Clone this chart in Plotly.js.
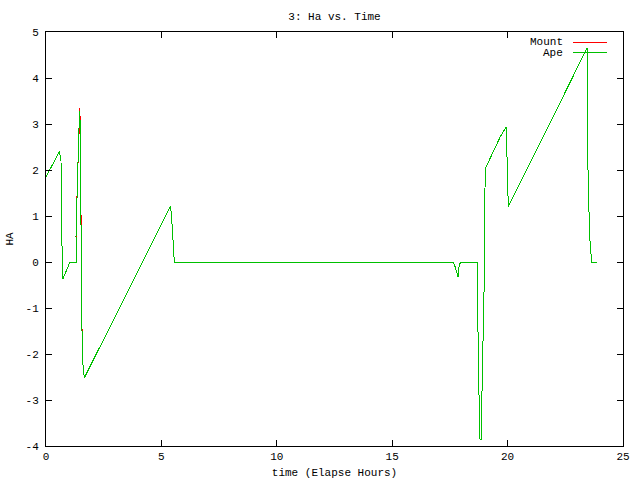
<!DOCTYPE html>
<html>
<head>
<meta charset="utf-8">
<script src="https://cdn.plot.ly/plotly-3.0.1.min.js"></script>
<style>
html,body{margin:0;padding:0;background:#fff;}
#chart{width:640px;height:480px;}
#chart path.js-line{shape-rendering:crispEdges;}
#chart .layer-above path, #chart .crisp{shape-rendering:crispEdges;}
</style>
</head>
<body>
<div id="chart"></div>
<script>
// Elapsed time (hours) and hour angle readings
const apeTime = [0, 0.3, 0.58, 0.65, 0.66, 0.67, 0.71, 0.75, 0.87, 1.04, 1.30, 1.30, 1.36, 1.40, 1.44, 1.47, 1.50, 1.55, 1.57, 1.62, 1.66, 2.5, 3.5, 4.5, 5.40, 5.47, 5.52, 5.56, 10.0, 17.65, 17.73, 17.80, 17.86, 17.90, 17.97, 18.70, 18.70, 18.76, 18.80, 18.85, 18.88, 18.92, 18.98, 18.99, 19.05, 19.70, 19.94, 19.96, 19.99, 20.03, 21.5, 23.44, 23.45, 23.49, 23.56, 23.61, 23.64, 23.86];
const apeHA   = [1.85, 2.12, 2.40, 2.20, 1.53, 0.26, -0.35, -0.35, -0.22, 0.0, 0.0, 0.55, 1.70, 2.52, 3.07, 3.28, 2.00, -0.57, -2.02, -2.35, -2.52, -1.68, -0.68, 0.32, 1.22, 0.77, 0.24, 0.0, 0.0, 0.0, -0.11, -0.22, -0.33, -0.07, 0.0, 0.0, -0.96, -2.85, -3.85, -3.87, -3.28, -2.09, -0.61, 1.15, 2.05, 2.74, 2.94, 2.52, 1.65, 1.20, 2.68, 4.65, 3.67, 1.72, 0.52, 0.20, 0.0, 0.0];
const mountTime = [0, 0.3, 0.58, 0.65, 0.66, 0.67, 0.71, 0.75, 0.87, 1.04, 1.30, 1.30, 1.36, 1.40, 1.44, 1.47, 1.50, 1.55, 1.57, 1.62, 1.66, 2.5, 3.5, 4.5, 5.40, 5.47, 5.52, 5.56, 10.0, 17.65, 17.73, 17.80, 17.86, 17.90, 17.97, 18.70, 18.70, 18.76, 18.80, 18.85, 18.88, 18.92, 18.98, 18.99, 19.05, 19.70, 19.94, 19.96, 19.99, 20.03, 21.5, 23.44, 23.45, 23.49, 23.56, 23.61, 23.64, 23.86];
const mountHA   = [1.85, 2.12, 2.40, 2.20, 1.53, 0.26, -0.35, -0.35, -0.22, 0.0, 0.0, 0.58, 1.74, 2.55, 3.12, 3.35, 2.00, -0.57, -2.02, -2.35, -2.52, -1.68, -0.68, 0.32, 1.22, 0.77, 0.24, 0.0, 0.0, 0.0, -0.11, -0.22, -0.33, -0.07, 0.0, 0.0, -0.96, -2.85, -3.85, -3.87, -3.28, -2.09, -0.61, 1.15, 2.05, 2.74, 2.94, 2.52, 1.65, 1.20, 2.68, 4.65, 3.67, 1.72, 0.52, 0.20, 0.0, 0.0];
const seriesNames = ["Mount", "Ape"];
const xTicks = [0, 5, 10, 15, 20, 25];
const yTicks = [-4, -3, -2, -1, 0, 1, 2, 3, 4, 5];

const RED = "#ff0000", GREEN = "#00c000";
const FONT = {family: "Liberation Mono, DejaVu Sans Mono, monospace", size: 11, color: "#000"};

const traces = [
  {x: mountTime, y: mountHA, name: seriesNames[0], type: "scatter", mode: "lines",
   line: {color: RED, width: 1}, showlegend: false},
  {x: apeTime, y: apeHA, name: seriesNames[1], type: "scatter", mode: "lines",
   line: {color: GREEN, width: 1}, showlegend: false}
];

const axisCommon = {
  showgrid: false, zeroline: false, showline: true, linecolor: "#000", linewidth: 1,
  mirror: "allticks", ticks: "inside", ticklen: 6, tickcolor: "#000", tickwidth: 1,
  tickfont: FONT, automargin: false
};

const legendY = [0.9758, 0.9493];
const annotations = seriesNames.map((n, i) => ({
  text: n, xref: "paper", yref: "paper", x: 0.8995, y: legendY[i],
  xanchor: "right", yanchor: "middle", showarrow: false, font: FONT
}));
const shapes = seriesNames.map((n, i) => ({
  type: "line", xref: "paper", yref: "paper", x0: 0.913, x1: 0.972,
  y0: legendY[i], y1: legendY[i], line: {color: i === 0 ? RED : GREEN, width: 1}
}));

const layout = {
  width: 640, height: 480,
  margin: {l: 46, r: 17, t: 32, b: 34, autoexpand: false},
  paper_bgcolor: "#fff", plot_bgcolor: "#fff",
  font: FONT,
  title: {text: "3: Ha vs. Time", font: FONT, x: 0.5, xref: "paper", y: 0.967, yref: "container", yanchor: "middle"},
  xaxis: Object.assign({}, axisCommon, {
    range: [0, 25], tickvals: xTicks, ticktext: xTicks.map(String),
    title: {text: "time (Elapse Hours)", font: FONT, standoff: 6}
  }),
  yaxis: Object.assign({}, axisCommon, {
    range: [-4, 5], tickvals: yTicks, ticktext: yTicks.map(String),
    ticklabelstandoff: 4,
    title: {text: "HA", font: FONT, standoff: 9}
  }),
  annotations: annotations,
  shapes: shapes,
  showlegend: false
};

Plotly.newPlot("chart", traces, layout, {displayModeBar: false, staticPlot: true});
</script>
</body>
</html>
